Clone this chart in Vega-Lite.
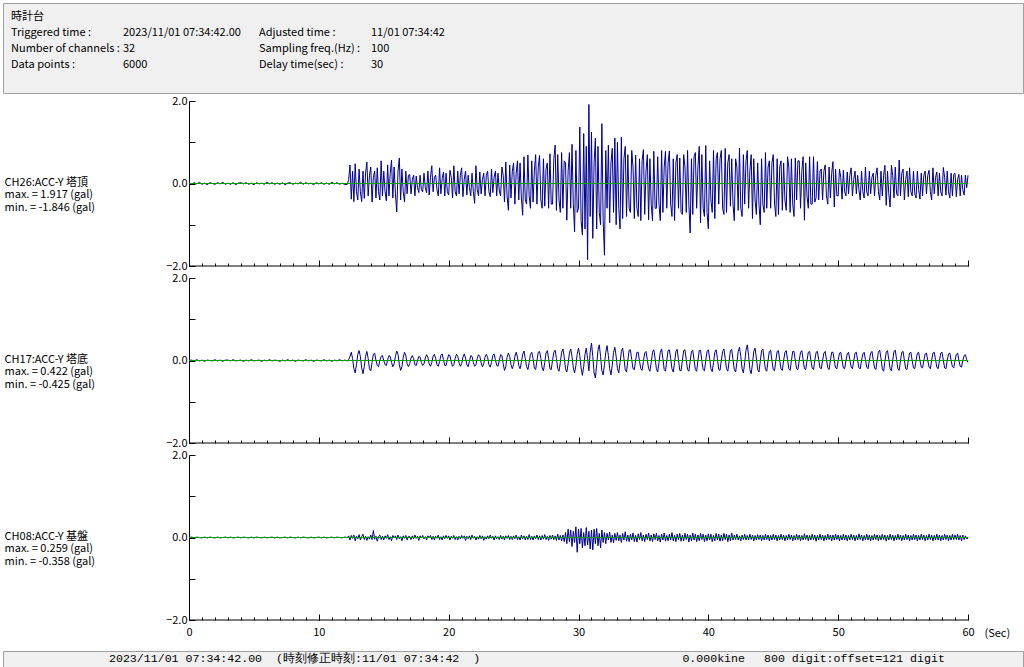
{
"$schema": "https://vega.github.io/schema/vega-lite/v6.json",
"background": "white",
"padding": {"left": 2, "top": 2, "right": 2, "bottom": 0},
"config": {
  "font": "Noto Sans CJK JP",
  "view": {"stroke": null},
  "axis": {"labelFont": "Noto Sans CJK JP", "labelFontSize": 11, "labelColor": "black", "domainColor": "black", "tickColor": "black", "grid": false, "titleFont": "Noto Sans CJK JP", "titleFontWeight": "normal", "titleColor": "black", "titleFontSize": 11}
},
"datasets": {"w": [
{"t":0,"a":0.01,"b":0,"c":0},{"t":0.2,"a":-0.02,"b":0.01,"c":0.01},{"t":0.4,"a":0.02,"b":-0.01,"c":-0.01},{"t":0.6,"a":-0.01,"b":0.02,"c":0.01},{"t":0.8,"a":0.03,"b":-0.01,"c":0},
{"t":1,"a":-0.02,"b":0.01,"c":-0.01},{"t":1.2,"a":0.01,"b":-0.02,"c":0.01},{"t":1.4,"a":-0.03,"b":0.01,"c":-0.01},{"t":1.6,"a":0.02,"b":0,"c":0.01},{"t":1.8,"a":0,"b":-0.01,"c":0},
{"t":2,"a":-0.02,"b":0.02,"c":-0.01},{"t":2.2,"a":0.02,"b":-0.01,"c":0.01},{"t":2.4,"a":-0.01,"b":0.01,"c":-0.01},{"t":2.6,"a":0.03,"b":-0.02,"c":0},{"t":2.8,"a":-0.02,"b":0.01,"c":0.01},
{"t":3,"a":0.01,"b":0.01,"c":-0.01},{"t":3.2,"a":-0.02,"b":-0.01,"c":0.01},{"t":3.4,"a":0.02,"b":0.02,"c":-0.01},{"t":3.6,"a":-0.03,"b":-0.01,"c":0},{"t":3.8,"a":0.01,"b":0,"c":0.01},
{"t":4,"a":0.02,"b":0.01,"c":-0.01},{"t":4.2,"a":-0.01,"b":-0.02,"c":0.01},{"t":4.4,"a":0.02,"b":0.01,"c":0},{"t":4.6,"a":-0.02,"b":-0.01,"c":-0.01},{"t":4.8,"a":0.01,"b":0.02,"c":0.01},
{"t":5,"a":-0.03,"b":-0.01,"c":-0.01},{"t":5.2,"a":0.02,"b":0,"c":0.01},{"t":5.4,"a":-0.01,"b":0.01,"c":0},{"t":5.6,"a":0.01,"b":-0.02,"c":-0.01},{"t":5.8,"a":-0.02,"b":0.01,"c":0.01},
{"t":6,"a":0.03,"b":-0.01,"c":-0.01},{"t":6.2,"a":-0.01,"b":0.02,"c":0},{"t":6.4,"a":0.02,"b":-0.01,"c":0.01},{"t":6.6,"a":-0.02,"b":0.01,"c":-0.01},{"t":6.8,"a":0.01,"b":0,"c":0.01},
{"t":7,"a":-0.02,"b":-0.02,"c":-0.01},{"t":7.2,"a":0.02,"b":0.01,"c":0},{"t":7.4,"a":-0.03,"b":-0.01,"c":0.01},{"t":7.6,"a":0.01,"b":0.02,"c":-0.01},{"t":7.8,"a":0.02,"b":-0.01,"c":0.01},
{"t":8,"a":-0.02,"b":0.01,"c":0},{"t":8.2,"a":0.01,"b":-0.02,"c":-0.01},{"t":8.4,"a":-0.01,"b":0.01,"c":0.01},{"t":8.6,"a":0.03,"b":0,"c":-0.01},{"t":8.8,"a":-0.02,"b":-0.01,"c":0.01},
{"t":9,"a":0.02,"b":0.02,"c":0},{"t":9.2,"a":-0.01,"b":-0.01,"c":-0.01},{"t":9.4,"a":0.01,"b":0.01,"c":0.01},{"t":9.6,"a":-0.03,"b":-0.02,"c":-0.01},{"t":9.8,"a":0.02,"b":0.01,"c":0},
{"t":10,"a":-0.01,"b":0,"c":0.01},{"t":10.2,"a":0.02,"b":-0.01,"c":-0.01},{"t":10.4,"a":-0.02,"b":0.02,"c":0.01},{"t":10.6,"a":0.01,"b":-0.01,"c":-0.01},{"t":10.8,"a":-0.02,"b":0.01,"c":0},
{"t":11,"a":0.03,"b":-0.02,"c":0.01},{"t":11.2,"a":-0.01,"b":0.01,"c":-0.01},{"t":11.4,"a":0.02,"b":-0.01,"c":0.01},{"t":11.6,"a":-0.02,"b":0.02,"c":0},{"t":11.8,"a":0.01,"b":-0.01,"c":-0.01},
{"t":12,"a":-0.03,"b":0.01,"c":0.01},{"t":12.2,"a":-0.02,"b":-0.01,"c":0},
{"t":12.3,"a":0.1,"b":0.02,"c":0.04},{"t":12.4,"a":0.45,"b":0.1,"c":-0.06},{"t":12.5,"a":-0.38,"b":0.2,"c":0.05},{"t":12.6,"a":0.3,"b":0.05,"c":-0.02},{"t":12.7,"a":-0.44,"b":-0.2,"c":0.06},{"t":12.8,"a":0.48,"b":-0.3,"c":-0.08},{"t":12.9,"a":-0.2,"b":-0.1,"c":0.03},
{"t":13,"a":-0.4,"b":0.15,"c":-0.03},{"t":13.1,"a":0.35,"b":0.24,"c":0.07},{"t":13.2,"a":-0.2,"b":0.1,"c":-0.06},{"t":13.3,"a":-0.44,"b":-0.18,"c":0.02},{"t":13.4,"a":0.3,"b":-0.32,"c":0.08},{"t":13.5,"a":-0.36,"b":-0.15,"c":-0.05},{"t":13.6,"a":0.25,"b":0.1,"c":0.03},{"t":13.7,"a":0.52,"b":0.22,"c":-0.07},{"t":13.8,"a":-0.3,"b":0.05,"c":0.02},{"t":13.9,"a":0.2,"b":-0.2,"c":-0.04},
{"t":14,"a":0.4,"b":-0.25,"c":0.06},{"t":14.1,"a":-0.45,"b":-0.05,"c":-0.05},{"t":14.2,"a":0.15,"b":0.15,"c":0.17},{"t":14.3,"a":0.3,"b":0.18,"c":-0.04},{"t":14.4,"a":-0.35,"b":0,"c":0.03},{"t":14.5,"a":0.38,"b":-0.12,"c":-0.09},{"t":14.6,"a":-0.2,"b":-0.15,"c":0.02},{"t":14.7,"a":-0.4,"b":0,"c":0.06},{"t":14.8,"a":0.55,"b":0.1,"c":-0.05},{"t":14.9,"a":-0.3,"b":0.12,"c":0.03},
{"t":15,"a":0.3,"b":0,"c":-0.06},{"t":15.1,"a":-0.2,"b":-0.1,"c":0.04},{"t":15.2,"a":-0.42,"b":-0.12,"c":-0.02},{"t":15.3,"a":0.45,"b":0.02,"c":0.07},{"t":15.4,"a":-0.3,"b":0.12,"c":-0.05},{"t":15.5,"a":0.25,"b":0.1,"c":0.02},{"t":15.6,"a":0.57,"b":-0.05,"c":-0.08},{"t":15.7,"a":-0.35,"b":-0.15,"c":0.05},{"t":15.8,"a":0.4,"b":-0.08,"c":-0.01},{"t":15.9,"a":-0.25,"b":0.1,"c":0.04},
{"t":16,"a":-0.69,"b":0.23,"c":-0.05},{"t":16.1,"a":0.3,"b":0.15,"c":0.06},{"t":16.2,"a":0.62,"b":-0.1,"c":-0.03},{"t":16.3,"a":-0.4,"b":-0.24,"c":0.02},{"t":16.4,"a":0.35,"b":-0.15,"c":-0.08},{"t":16.5,"a":-0.2,"b":0.08,"c":0.04},{"t":16.6,"a":-0.45,"b":0.2,"c":-0.02},{"t":16.7,"a":0.3,"b":0.12,"c":0.05},{"t":16.8,"a":-0.25,"b":-0.08,"c":-0.06},{"t":16.9,"a":0.2,"b":-0.15,"c":0.03},
{"t":17,"a":0.22,"b":-0.08,"c":0.02},{"t":17.1,"a":-0.25,"b":0.06,"c":-0.05},{"t":17.2,"a":0.1,"b":0.12,"c":0.04},{"t":17.3,"a":0.2,"b":0.05,"c":-0.03},{"t":17.4,"a":-0.3,"b":-0.1,"c":0.06},{"t":17.5,"a":0.18,"b":-0.12,"c":-0.02},{"t":17.6,"a":-0.1,"b":0,"c":0.03},{"t":17.7,"a":-0.22,"b":0.1,"c":-0.07},{"t":17.8,"a":0.2,"b":0.08,"c":0.04},{"t":17.9,"a":-0.15,"b":-0.05,"c":-0.01},
{"t":18,"a":-0.2,"b":-0.12,"c":0.05},{"t":18.1,"a":0.25,"b":-0.08,"c":-0.03},{"t":18.2,"a":-0.1,"b":0.06,"c":0.02},{"t":18.3,"a":-0.22,"b":0.14,"c":-0.06},{"t":18.4,"a":0.3,"b":0.08,"c":0.04},{"t":18.5,"a":-0.28,"b":-0.08,"c":-0.01},{"t":18.6,"a":0.15,"b":-0.14,"c":0.05},{"t":18.7,"a":0.43,"b":-0.05,"c":-0.05},{"t":18.8,"a":-0.2,"b":0.1,"c":0.03},{"t":18.9,"a":0.15,"b":0.15,"c":-0.06},
{"t":19,"a":0.2,"b":0.05,"c":0.03},{"t":19.1,"a":-0.15,"b":-0.1,"c":-0.02},{"t":19.2,"a":-0.3,"b":-0.14,"c":0.06},{"t":19.3,"a":0.38,"b":-0.02,"c":-0.05},{"t":19.4,"a":-0.25,"b":0.12,"c":0.02},{"t":19.5,"a":0.12,"b":0.16,"c":-0.06},{"t":19.6,"a":0.28,"b":0.02,"c":0.04},{"t":19.7,"a":-0.3,"b":-0.12,"c":-0.03},{"t":19.8,"a":0.25,"b":-0.12,"c":0.05},{"t":19.9,"a":-0.2,"b":0.02,"c":-0.02},
{"t":20,"a":-0.28,"b":0.14,"c":0.04},{"t":20.1,"a":0.32,"b":0.12,"c":-0.06},{"t":20.2,"a":0.15,"b":-0.04,"c":0.03},{"t":20.3,"a":-0.35,"b":-0.14,"c":-0.02},{"t":20.4,"a":0.43,"b":-0.1,"c":0.05},{"t":20.5,"a":-0.2,"b":0.05,"c":-0.05},{"t":20.6,"a":-0.3,"b":0.15,"c":0.02},{"t":20.7,"a":0.3,"b":0.1,"c":-0.06},{"t":20.8,"a":-0.25,"b":-0.06,"c":0.03},{"t":20.9,"a":0.2,"b":-0.14,"c":-0.03},
{"t":21,"a":0.38,"b":-0.08,"c":0.05},{"t":21.1,"a":-0.32,"b":0.08,"c":-0.02},{"t":21.2,"a":0.1,"b":0.16,"c":0.04},{"t":21.3,"a":0.3,"b":0.06,"c":-0.07},{"t":21.4,"a":-0.28,"b":-0.1,"c":0.03},{"t":21.5,"a":0.2,"b":-0.15,"c":-0.03},{"t":21.6,"a":-0.1,"b":-0.02,"c":0.04},{"t":21.7,"a":-0.3,"b":0.12,"c":-0.05},{"t":21.8,"a":0.25,"b":0.1,"c":0.06},{"t":21.9,"a":-0.2,"b":-0.05,"c":-0.02},
{"t":22,"a":-0.48,"b":-0.14,"c":0.03},{"t":22.1,"a":0.43,"b":-0.1,"c":-0.06},{"t":22.2,"a":-0.15,"b":0.05,"c":0.02},{"t":22.3,"a":-0.3,"b":0.14,"c":-0.04},{"t":22.4,"a":0.28,"b":0.1,"c":0.05},{"t":22.5,"a":-0.25,"b":-0.06,"c":-0.03},{"t":22.6,"a":0.1,"b":-0.15,"c":0.04},{"t":22.7,"a":0.25,"b":-0.08,"c":-0.07},{"t":22.8,"a":-0.3,"b":0.08,"c":0.02},{"t":22.9,"a":0.2,"b":0.15,"c":-0.04},
{"t":23,"a":0.3,"b":0.08,"c":0.04},{"t":23.1,"a":-0.2,"b":-0.1,"c":-0.03},{"t":23.2,"a":-0.32,"b":-0.16,"c":0.06},{"t":23.3,"a":0.35,"b":-0.05,"c":-0.02},{"t":23.4,"a":-0.22,"b":0.12,"c":0.03},{"t":23.5,"a":0.15,"b":0.16,"c":-0.06},{"t":23.6,"a":0.3,"b":0.02,"c":0.04},{"t":23.7,"a":-0.3,"b":-0.12,"c":-0.03},{"t":23.8,"a":0.25,"b":-0.14,"c":0.02},{"t":23.9,"a":-0.18,"b":0,"c":-0.05},
{"t":24,"a":-0.3,"b":0.14,"c":0.05},{"t":24.1,"a":0.4,"b":0.12,"c":-0.04},{"t":24.2,"a":0.2,"b":-0.08,"c":0.03},{"t":24.3,"a":-0.45,"b":-0.24,"c":-0.06},{"t":24.4,"a":0.52,"b":-0.15,"c":0.04},{"t":24.5,"a":-0.3,"b":0.08,"c":-0.02},{"t":24.6,"a":-0.65,"b":0.18,"c":0.05},{"t":24.7,"a":0.45,"b":0.1,"c":-0.05},{"t":24.8,"a":-0.35,"b":-0.1,"c":0.03},{"t":24.9,"a":0.3,"b":-0.2,"c":-0.05},
{"t":25,"a":0.5,"b":-0.1,"c":0.04},{"t":25.1,"a":-0.5,"b":0.1,"c":-0.03},{"t":25.2,"a":0.25,"b":0.2,"c":0.06},{"t":25.3,"a":0.55,"b":0.08,"c":-0.05},{"t":25.4,"a":-0.4,"b":-0.12,"c":0.02},{"t":25.5,"a":0.5,"b":-0.2,"c":-0.06},{"t":25.6,"a":-0.35,"b":-0.05,"c":0.06},{"t":25.7,"a":-0.77,"b":0.15,"c":-0.03},{"t":25.8,"a":0.65,"b":0.23,"c":0.04},{"t":25.9,"a":-0.4,"b":0.05,"c":-0.06},
{"t":26,"a":-0.5,"b":-0.15,"c":0.03},{"t":26.1,"a":0.69,"b":-0.22,"c":-0.05},{"t":26.2,"a":-0.3,"b":-0.05,"c":0.07},{"t":26.3,"a":-0.6,"b":0.15,"c":-0.05},{"t":26.4,"a":0.55,"b":0.2,"c":0.03},{"t":26.5,"a":-0.45,"b":0.05,"c":-0.06},{"t":26.6,"a":0.3,"b":-0.18,"c":0.04},{"t":26.7,"a":0.7,"b":-0.22,"c":-0.03},{"t":26.8,"a":-0.5,"b":0,"c":0.06},{"t":26.9,"a":0.4,"b":0.2,"c":-0.05},
{"t":27,"a":0.68,"b":0.22,"c":0.04},{"t":27.1,"a":-0.4,"b":0.05,"c":-0.06},{"t":27.2,"a":-0.6,"b":-0.18,"c":0.05},{"t":27.3,"a":0.6,"b":-0.25,"c":-0.04},{"t":27.4,"a":-0.55,"b":-0.05,"c":0.07},{"t":27.5,"a":0.35,"b":0.18,"c":-0.05},{"t":27.6,"a":0.5,"b":0.24,"c":0.03},{"t":27.7,"a":-0.6,"b":0.05,"c":-0.07},{"t":27.8,"a":0.72,"b":-0.2,"c":0.05},{"t":27.9,"a":-0.5,"b":-0.22,"c":-0.04},
{"t":28,"a":-0.5,"b":0,"c":0.06},{"t":28.1,"a":0.6,"b":0.2,"c":-0.05},{"t":28.2,"a":0.93,"b":0.25,"c":0.04},{"t":28.3,"a":-0.65,"b":0.05,"c":-0.07},{"t":28.4,"a":0.7,"b":-0.2,"c":0.08},{"t":28.5,"a":-0.4,"b":-0.26,"c":-0.06},{"t":28.6,"a":-0.7,"b":-0.05,"c":0.05},{"t":28.7,"a":0.75,"b":0.2,"c":-0.08},{"t":28.8,"a":-0.6,"b":0.28,"c":0.06},{"t":28.9,"a":0.55,"b":0.08,"c":-0.1},
{"t":29,"a":0.5,"b":-0.2,"c":0.12},{"t":29.1,"a":-0.89,"b":-0.28,"c":-0.15},{"t":29.2,"a":0.3,"b":-0.08,"c":0.2},{"t":29.3,"a":0.75,"b":0.18,"c":-0.1},{"t":29.4,"a":-0.6,"b":0.28,"c":0.18},{"t":29.5,"a":0.95,"b":0.1,"c":-0.22},{"t":29.6,"a":-0.5,"b":-0.18,"c":0.15},{"t":29.7,"a":-1.17,"b":-0.3,"c":-0.12},{"t":29.8,"a":0.8,"b":-0.12,"c":0.259},{"t":29.9,"a":-0.7,"b":0.15,"c":-0.358},
{"t":30,"a":-0.6,"b":0.3,"c":0.2},{"t":30.1,"a":1.37,"b":0.12,"c":-0.15},{"t":30.2,"a":-0.9,"b":-0.18,"c":0.22},{"t":30.3,"a":-1.25,"b":-0.36,"c":-0.25},{"t":30.4,"a":1.21,"b":-0.15,"c":0.12},{"t":30.5,"a":-1.1,"b":0.15,"c":-0.2},{"t":30.6,"a":0.9,"b":0.3,"c":0.24},{"t":30.7,"a":-1.846,"b":0.05,"c":-0.18},{"t":30.8,"a":1.917,"b":-0.25,"c":0.15},{"t":30.9,"a":-0.8,"b":0.2,"c":-0.28},
{"t":31,"a":1.25,"b":0.422,"c":0.18},{"t":31.1,"a":-1.33,"b":0.1,"c":-0.3},{"t":31.2,"a":0.5,"b":-0.3,"c":0.2},{"t":31.3,"a":1.1,"b":-0.425,"c":-0.15},{"t":31.4,"a":-1.1,"b":-0.1,"c":0.22},{"t":31.5,"a":0.9,"b":0.25,"c":-0.2},{"t":31.6,"a":-0.7,"b":0.38,"c":0.1},{"t":31.7,"a":-1.0,"b":0.1,"c":-0.25},{"t":31.8,"a":1.45,"b":-0.25,"c":0.18},{"t":31.9,"a":-0.9,"b":-0.35,"c":-0.12},
{"t":32,"a":-1.74,"b":-0.1,"c":0.12},{"t":32.1,"a":0.8,"b":0.2,"c":-0.15},{"t":32.2,"a":-0.6,"b":0.36,"c":0.1},{"t":32.3,"a":0.93,"b":0.12,"c":-0.06},{"t":32.4,"a":-0.95,"b":-0.2,"c":0.13},{"t":32.5,"a":0.5,"b":-0.35,"c":-0.12},{"t":32.6,"a":0.85,"b":-0.12,"c":0.06},{"t":32.7,"a":-0.7,"b":0.2,"c":-0.13},{"t":32.8,"a":1.1,"b":0.32,"c":0.1},{"t":32.9,"a":-1.0,"b":0.1,"c":-0.07},
{"t":33,"a":1.0,"b":-0.2,"c":0.12},{"t":33.1,"a":-0.6,"b":-0.3,"c":-0.08},{"t":33.2,"a":-1.1,"b":-0.05,"c":0.06},{"t":33.3,"a":1.12,"b":0.22,"c":-0.12},{"t":33.4,"a":-0.85,"b":0.3,"c":0.1},{"t":33.5,"a":0.6,"b":0.05,"c":-0.06},{"t":33.6,"a":0.9,"b":-0.22,"c":0.14},{"t":33.7,"a":-0.8,"b":-0.28,"c":-0.09},{"t":33.8,"a":0.7,"b":0,"c":0.06},{"t":33.9,"a":-0.6,"b":0.25,"c":-0.1},
{"t":34,"a":-0.7,"b":0.26,"c":0.08},{"t":34.1,"a":0.8,"b":0.02,"c":-0.06},{"t":34.2,"a":0.4,"b":-0.2,"c":0.11},{"t":34.3,"a":-0.85,"b":-0.22,"c":-0.1},{"t":34.4,"a":0.69,"b":0,"c":0.05},{"t":34.5,"a":-0.6,"b":0.2,"c":-0.11},{"t":34.6,"a":-0.8,"b":0.2,"c":0.09},{"t":34.7,"a":0.6,"b":-0.02,"c":-0.05},{"t":34.8,"a":-0.9,"b":-0.2,"c":0.12},{"t":34.9,"a":0.55,"b":-0.24,"c":-0.08},
{"t":35,"a":0.82,"b":-0.02,"c":0.06},{"t":35.1,"a":-0.75,"b":0.18,"c":-0.1},{"t":35.2,"a":0.3,"b":0.22,"c":0.08},{"t":35.3,"a":0.7,"b":0.02,"c":-0.05},{"t":35.4,"a":-0.88,"b":-0.2,"c":0.11},{"t":35.5,"a":0.6,"b":-0.26,"c":-0.08},{"t":35.6,"a":-0.5,"b":-0.05,"c":0.06},{"t":35.7,"a":-0.9,"b":0.2,"c":-0.1},{"t":35.8,"a":0.78,"b":0.26,"c":0.09},{"t":35.9,"a":-0.6,"b":0.05,"c":-0.05},
{"t":36,"a":-0.6,"b":-0.2,"c":0.1},{"t":36.1,"a":0.65,"b":-0.28,"c":-0.08},{"t":36.2,"a":-0.5,"b":-0.05,"c":0.05},{"t":36.3,"a":-0.9,"b":0.2,"c":-0.11},{"t":36.4,"a":0.8,"b":0.28,"c":0.08},{"t":36.5,"a":-0.7,"b":0.05,"c":-0.06},{"t":36.6,"a":0.4,"b":-0.22,"c":0.11},{"t":36.7,"a":0.78,"b":-0.26,"c":-0.09},{"t":36.8,"a":-0.6,"b":0,"c":0.05},{"t":36.9,"a":0.5,"b":0.24,"c":-0.08},
{"t":37,"a":0.79,"b":0.26,"c":0.08},{"t":37.1,"a":-0.5,"b":0.05,"c":-0.06},{"t":37.2,"a":-0.8,"b":-0.2,"c":0.12},{"t":37.3,"a":0.6,"b":-0.28,"c":-0.08},{"t":37.4,"a":-0.9,"b":-0.05,"c":0.05},{"t":37.5,"a":0.5,"b":0.22,"c":-0.1},{"t":37.6,"a":0.7,"b":0.27,"c":0.08},{"t":37.7,"a":-0.6,"b":0.02,"c":-0.05},{"t":37.8,"a":0.62,"b":-0.24,"c":0.1},{"t":37.9,"a":-0.7,"b":-0.25,"c":-0.09},
{"t":38,"a":-0.75,"b":0,"c":0.06},{"t":38.1,"a":0.7,"b":0.24,"c":-0.08},{"t":38.2,"a":0.4,"b":0.26,"c":0.1},{"t":38.3,"a":-0.7,"b":0.02,"c":-0.05},{"t":38.4,"a":0.8,"b":-0.22,"c":0.08},{"t":38.5,"a":-0.5,"b":-0.26,"c":-0.11},{"t":38.6,"a":-1.2,"b":-0.02,"c":0.06},{"t":38.7,"a":0.6,"b":0.22,"c":-0.08},{"t":38.8,"a":-0.75,"b":0.25,"c":0.11},{"t":38.9,"a":0.65,"b":0.02,"c":-0.06},
{"t":39,"a":0.75,"b":-0.22,"c":0.08},{"t":39.1,"a":-0.6,"b":-0.26,"c":-0.1},{"t":39.2,"a":0.4,"b":0,"c":0.06},{"t":39.3,"a":0.9,"b":0.24,"c":-0.08},{"t":39.4,"a":-0.95,"b":0.25,"c":0.1},{"t":39.5,"a":0.7,"b":0,"c":-0.05},{"t":39.6,"a":-0.6,"b":-0.22,"c":0.08},{"t":39.7,"a":-0.8,"b":-0.25,"c":-0.1},{"t":39.8,"a":0.92,"b":0,"c":0.06},{"t":39.9,"a":-0.7,"b":0.22,"c":-0.08},
{"t":40,"a":-1.1,"b":0.26,"c":0.09},{"t":40.1,"a":0.55,"b":0.05,"c":-0.06},{"t":40.2,"a":-0.4,"b":-0.2,"c":0.08},{"t":40.3,"a":-0.7,"b":-0.27,"c":-0.1},{"t":40.4,"a":0.8,"b":-0.05,"c":0.05},{"t":40.5,"a":-0.85,"b":0.2,"c":-0.08},{"t":40.6,"a":0.6,"b":0.26,"c":0.1},{"t":40.7,"a":0.75,"b":0.05,"c":-0.06},{"t":40.8,"a":-0.5,"b":-0.22,"c":0.08},{"t":40.9,"a":0.6,"b":-0.24,"c":-0.09},
{"t":41,"a":0.8,"b":0,"c":0.06},{"t":41.1,"a":-0.6,"b":0.22,"c":-0.08},{"t":41.2,"a":-0.75,"b":0.28,"c":0.1},{"t":41.3,"a":0.85,"b":0.05,"c":-0.05},{"t":41.4,"a":-0.7,"b":-0.2,"c":0.08},{"t":41.5,"a":0.5,"b":-0.26,"c":-0.1},{"t":41.6,"a":0.7,"b":-0.02,"c":0.06},{"t":41.7,"a":-0.55,"b":0.24,"c":-0.08},{"t":41.8,"a":0.6,"b":0.27,"c":0.11},{"t":41.9,"a":-0.5,"b":0.02,"c":-0.06},
{"t":42,"a":-0.9,"b":-0.22,"c":0.06},{"t":42.1,"a":0.6,"b":-0.28,"c":-0.05},{"t":42.2,"a":0.4,"b":-0.05,"c":0.08},{"t":42.3,"a":-0.65,"b":0.22,"c":-0.06},{"t":42.4,"a":0.86,"b":0.32,"c":0.04},{"t":42.5,"a":-0.6,"b":0.1,"c":-0.08},{"t":42.6,"a":-0.8,"b":-0.2,"c":0.06},{"t":42.7,"a":0.7,"b":-0.3,"c":-0.05},{"t":42.8,"a":-0.5,"b":-0.05,"c":0.08},{"t":42.9,"a":0.55,"b":0.25,"c":-0.06},
{"t":43,"a":0.8,"b":0.38,"c":0.05},{"t":43.1,"a":-0.6,"b":0.12,"c":-0.06},{"t":43.2,"a":0.3,"b":-0.22,"c":0.08},{"t":43.3,"a":0.7,"b":-0.32,"c":-0.05},{"t":43.4,"a":-0.85,"b":-0.08,"c":0.06},{"t":43.5,"a":0.6,"b":0.22,"c":-0.08},{"t":43.6,"a":-0.4,"b":0.3,"c":0.05},{"t":43.7,"a":-0.75,"b":0.06,"c":-0.06},{"t":43.8,"a":0.5,"b":-0.22,"c":0.07},{"t":43.9,"a":-0.5,"b":-0.28,"c":-0.05},
{"t":44,"a":-1.0,"b":-0.02,"c":0.06},{"t":44.1,"a":0.6,"b":0.24,"c":-0.08},{"t":44.2,"a":-0.5,"b":0.28,"c":0.05},{"t":44.3,"a":-0.7,"b":0.02,"c":-0.06},{"t":44.4,"a":0.75,"b":-0.22,"c":0.08},{"t":44.5,"a":-0.6,"b":-0.26,"c":-0.05},{"t":44.6,"a":0.4,"b":0,"c":0.06},{"t":44.7,"a":0.55,"b":0.22,"c":-0.08},{"t":44.8,"a":-0.6,"b":0.25,"c":0.05},{"t":44.9,"a":0.5,"b":0,"c":-0.06},
{"t":45,"a":0.7,"b":-0.22,"c":0.08},{"t":45.1,"a":-0.5,"b":-0.25,"c":-0.05},{"t":45.2,"a":-0.8,"b":0,"c":0.06},{"t":45.3,"a":0.6,"b":0.22,"c":-0.08},{"t":45.4,"a":-0.75,"b":0.24,"c":0.05},{"t":45.5,"a":0.4,"b":0,"c":-0.06},{"t":45.6,"a":0.55,"b":-0.2,"c":0.08},{"t":45.7,"a":-0.65,"b":-0.24,"c":-0.05},{"t":45.8,"a":0.5,"b":0,"c":0.06},{"t":45.9,"a":-0.4,"b":0.2,"c":-0.08},
{"t":46,"a":-0.65,"b":0.24,"c":0.05},{"t":46.1,"a":0.65,"b":0.02,"c":-0.06},{"t":46.2,"a":0.4,"b":-0.2,"c":0.08},{"t":46.3,"a":-0.7,"b":-0.24,"c":-0.05},{"t":46.4,"a":0.6,"b":0,"c":0.06},{"t":46.5,"a":-0.5,"b":0.22,"c":-0.08},{"t":46.6,"a":-0.8,"b":0.22,"c":0.05},{"t":46.7,"a":0.62,"b":0,"c":-0.06},{"t":46.8,"a":-0.4,"b":-0.2,"c":0.08},{"t":46.9,"a":0.55,"b":-0.22,"c":-0.05},
{"t":47,"a":0.55,"b":0,"c":0.06},{"t":47.1,"a":-0.6,"b":0.2,"c":-0.08},{"t":47.2,"a":0.3,"b":0.24,"c":0.05},{"t":47.3,"a":0.65,"b":0.02,"c":-0.06},{"t":47.4,"a":-0.89,"b":-0.2,"c":0.09},{"t":47.5,"a":0.5,"b":-0.22,"c":-0.05},{"t":47.6,"a":-0.3,"b":0,"c":0.06},{"t":47.7,"a":-0.6,"b":0.2,"c":-0.08},{"t":47.8,"a":0.65,"b":0.22,"c":0.05},{"t":47.9,"a":-0.5,"b":0,"c":-0.06},
{"t":48,"a":-0.5,"b":-0.18,"c":0.08},{"t":48.1,"a":0.65,"b":-0.22,"c":-0.05},{"t":48.2,"a":-0.45,"b":0,"c":0.06},{"t":48.3,"a":-0.35,"b":0.2,"c":-0.09},{"t":48.4,"a":0.53,"b":0.22,"c":0.05},{"t":48.5,"a":-0.4,"b":0.02,"c":-0.06},{"t":48.6,"a":0.3,"b":-0.18,"c":0.08},{"t":48.7,"a":0.35,"b":-0.2,"c":-0.05},{"t":48.8,"a":-0.4,"b":0,"c":0.06},{"t":48.9,"a":0.3,"b":0.18,"c":-0.08},
{"t":49,"a":0.45,"b":0.22,"c":0.05},{"t":49.1,"a":-0.3,"b":0.02,"c":-0.06},{"t":49.2,"a":-0.5,"b":-0.18,"c":0.08},{"t":49.3,"a":0.4,"b":-0.22,"c":-0.05},{"t":49.4,"a":-0.35,"b":0,"c":0.06},{"t":49.5,"a":0.25,"b":0.2,"c":-0.08},{"t":49.6,"a":0.53,"b":0.2,"c":0.06},{"t":49.7,"a":-0.57,"b":0,"c":-0.06},{"t":49.8,"a":0.35,"b":-0.18,"c":0.08},{"t":49.9,"a":-0.3,"b":-0.2,"c":-0.05},
{"t":50,"a":-0.3,"b":0,"c":0.06},{"t":50.1,"a":0.35,"b":0.18,"c":-0.08},{"t":50.2,"a":0.15,"b":0.2,"c":0.05},{"t":50.3,"a":-0.38,"b":0,"c":-0.06},{"t":50.4,"a":0.32,"b":-0.18,"c":0.08},{"t":50.5,"a":-0.2,"b":-0.2,"c":-0.06},{"t":50.6,"a":-0.3,"b":0,"c":0.06},{"t":50.7,"a":0.28,"b":0.16,"c":-0.08},{"t":50.8,"a":-0.25,"b":0.2,"c":0.05},{"t":50.9,"a":0.2,"b":0.02,"c":-0.06},
{"t":51,"a":0.38,"b":-0.16,"c":0.08},{"t":51.1,"a":-0.3,"b":-0.2,"c":-0.05},{"t":51.2,"a":0.1,"b":0,"c":0.06},{"t":51.3,"a":0.3,"b":0.18,"c":-0.08},{"t":51.4,"a":-0.25,"b":0.2,"c":0.05},{"t":51.5,"a":0.2,"b":0,"c":-0.06},{"t":51.6,"a":-0.15,"b":-0.18,"c":0.09},{"t":51.7,"a":-0.4,"b":-0.2,"c":-0.05},{"t":51.8,"a":0.3,"b":0,"c":0.06},{"t":51.9,"a":-0.2,"b":0.16,"c":-0.08},
{"t":52,"a":-0.35,"b":0.2,"c":0.05},{"t":52.1,"a":0.4,"b":0.02,"c":-0.06},{"t":52.2,"a":-0.2,"b":-0.16,"c":0.08},{"t":52.3,"a":-0.3,"b":-0.2,"c":-0.06},{"t":52.4,"a":0.3,"b":0,"c":0.06},{"t":52.5,"a":-0.25,"b":0.18,"c":-0.08},{"t":52.6,"a":0.15,"b":0.22,"c":0.05},{"t":52.7,"a":0.25,"b":0.02,"c":-0.06},{"t":52.8,"a":-0.3,"b":-0.18,"c":0.08},{"t":52.9,"a":0.2,"b":-0.22,"c":-0.05},
{"t":53,"a":0.38,"b":0,"c":0.06},{"t":53.1,"a":-0.2,"b":0.2,"c":-0.08},{"t":53.2,"a":-0.4,"b":0.25,"c":0.05},{"t":53.3,"a":0.3,"b":0.05,"c":-0.06},{"t":53.4,"a":-0.3,"b":-0.2,"c":0.08},{"t":53.5,"a":0.2,"b":-0.26,"c":-0.05},{"t":53.6,"a":0.44,"b":-0.02,"c":0.06},{"t":53.7,"a":-0.53,"b":0.2,"c":-0.09},{"t":53.8,"a":0.3,"b":0.24,"c":0.05},{"t":53.9,"a":-0.25,"b":0.02,"c":-0.06},
{"t":54,"a":-0.57,"b":-0.2,"c":0.08},{"t":54.1,"a":0.44,"b":-0.25,"c":-0.05},{"t":54.2,"a":0.2,"b":0,"c":0.06},{"t":54.3,"a":-0.35,"b":0.22,"c":-0.08},{"t":54.4,"a":0.4,"b":0.25,"c":0.05},{"t":54.5,"a":-0.25,"b":0.02,"c":-0.06},{"t":54.6,"a":-0.3,"b":-0.2,"c":0.08},{"t":54.7,"a":0.57,"b":-0.24,"c":-0.05},{"t":54.8,"a":-0.3,"b":0,"c":0.06},{"t":54.9,"a":0.25,"b":0.2,"c":-0.08},
{"t":55,"a":0.35,"b":0.22,"c":0.05},{"t":55.1,"a":-0.4,"b":0,"c":-0.06},{"t":55.2,"a":0.1,"b":-0.2,"c":0.08},{"t":55.3,"a":0.3,"b":-0.22,"c":-0.05},{"t":55.4,"a":-0.32,"b":0,"c":0.06},{"t":55.5,"a":0.38,"b":0.18,"c":-0.08},{"t":55.6,"a":-0.2,"b":0.2,"c":0.05},{"t":55.7,"a":-0.3,"b":0,"c":-0.06},{"t":55.8,"a":0.3,"b":-0.18,"c":0.08},{"t":55.9,"a":-0.25,"b":-0.2,"c":-0.05},
{"t":56,"a":-0.35,"b":0,"c":0.06},{"t":56.1,"a":0.3,"b":0.18,"c":-0.08},{"t":56.2,"a":-0.15,"b":0.2,"c":0.05},{"t":56.3,"a":-0.38,"b":0,"c":-0.06},{"t":56.4,"a":0.25,"b":-0.16,"c":0.08},{"t":56.5,"a":-0.3,"b":-0.18,"c":-0.05},{"t":56.6,"a":0.2,"b":0,"c":0.06},{"t":56.7,"a":0.3,"b":0.16,"c":-0.08},{"t":56.8,"a":-0.25,"b":0.18,"c":0.05},{"t":56.9,"a":0.2,"b":0,"c":-0.06},
{"t":57,"a":0.32,"b":-0.16,"c":0.08},{"t":57.1,"a":-0.2,"b":-0.2,"c":-0.05},{"t":57.2,"a":-0.4,"b":0,"c":0.06},{"t":57.3,"a":0.38,"b":0.18,"c":-0.08},{"t":57.4,"a":-0.25,"b":0.2,"c":0.05},{"t":57.5,"a":0.15,"b":0.02,"c":-0.06},{"t":57.6,"a":0.28,"b":-0.16,"c":0.08},{"t":57.7,"a":-0.3,"b":-0.2,"c":-0.06},{"t":57.8,"a":0.25,"b":0,"c":0.06},{"t":57.9,"a":-0.2,"b":0.18,"c":-0.08},
{"t":58,"a":-0.3,"b":0.2,"c":0.05},{"t":58.1,"a":0.39,"b":0,"c":-0.06},{"t":58.2,"a":0.15,"b":-0.18,"c":0.08},{"t":58.3,"a":-0.28,"b":-0.2,"c":-0.05},{"t":58.4,"a":0.3,"b":0,"c":0.06},{"t":58.5,"a":-0.2,"b":0.16,"c":-0.08},{"t":58.6,"a":-0.35,"b":0.18,"c":0.05},{"t":58.7,"a":0.25,"b":0,"c":-0.06},{"t":58.8,"a":-0.3,"b":-0.15,"c":0.08},{"t":58.9,"a":0.22,"b":-0.18,"c":-0.05},
{"t":59,"a":0.25,"b":0,"c":0.06},{"t":59.1,"a":-0.32,"b":0.15,"c":-0.05},{"t":59.2,"a":0.1,"b":0.18,"c":0.08},{"t":59.3,"a":0.22,"b":0,"c":-0.06},{"t":59.4,"a":-0.3,"b":-0.14,"c":0.05},{"t":59.5,"a":0.2,"b":-0.16,"c":-0.08},{"t":59.6,"a":-0.15,"b":0,"c":0.06},{"t":59.7,"a":-0.28,"b":0.12,"c":-0.05},{"t":59.8,"a":0.2,"b":0.14,"c":0.04},{"t":59.9,"a":-0.1,"b":0.02,"c":-0.03},
{"t":60,"a":0.2,"b":-0.05,"c":-0.02}
]},
"vconcat": [
  {
    "vconcat": [
      {
        "width": 1020, "height": 90,
        "view": {"fill": "#f0f0f0", "stroke": "#a0a0a0"},
        "layer": [
          {
            "data": {"values": [
              {"r": 0, "k": "k", "s": "時計台"},
              {"r": 1, "k": "k", "s": "Triggered time :"},
              {"r": 1, "k": "v", "s": "2023/11/01 07:34:42.00"},
              {"r": 2, "k": "k", "s": "Number of channels :"},
              {"r": 2, "k": "v", "s": "32"},
              {"r": 3, "k": "k", "s": "Data points :"},
              {"r": 3, "k": "v", "s": "6000"}
            ]},
            "mark": {"type": "text", "align": "left", "baseline": "middle", "fontSize": 11, "color": "black"},
            "encoding": {
              "x": {"field": "k", "type": "nominal", "scale": {"type": "point", "domain": ["k", "v"], "range": [8, 120], "padding": 0}, "axis": null},
              "y": {"field": "r", "type": "ordinal", "scale": {"type": "point", "domain": [0, 1, 2, 3], "range": [14, 62], "padding": 0}, "axis": null},
              "text": {"field": "s"}
            }
          },
          {
            "data": {"values": [
              {"r": 1, "k": "k", "s": "Adjusted time :"},
              {"r": 1, "k": "v", "s": "11/01 07:34:42"},
              {"r": 2, "k": "k", "s": "Sampling freq.(Hz) :"},
              {"r": 2, "k": "v", "s": "100"},
              {"r": 3, "k": "k", "s": "Delay time(sec) :"},
              {"r": 3, "k": "v", "s": "30"}
            ]},
            "mark": {"type": "text", "align": "left", "baseline": "middle", "fontSize": 11, "color": "black"},
            "encoding": {
              "x": {"field": "k", "type": "nominal", "scale": {"type": "point", "domain": ["k", "v"], "range": [256, 368], "padding": 0}, "axis": null},
              "y": {"field": "r", "type": "ordinal", "scale": {"type": "point", "domain": [0, 1, 2, 3], "range": [14, 62], "padding": 0}, "axis": null},
              "text": {"field": "s"}
            }
          }
        ],
        "resolve": {"scale": {"x": "independent"}}
      },
      {
        "width": 1020, "height": 165,
        "data": {"name": "w"},
        "layer": [
          {
            "mark": {"type": "line", "color": "#000090", "strokeWidth": 1},
            "encoding": {
              "x": {"field": "t", "type": "quantitative", "scale": {"domain": [-14.326, 64.236], "nice": false, "zero": false},
                    "axis": {"orient": "bottom", "values": [0, 10, 20, 30, 40, 50, 60], "tickSize": -6, "labels": false, "domain": false, "title": null}},
              "y": {"field": "a", "type": "quantitative", "scale": {"domain": [-2, 2], "nice": false, "zero": false},
                    "axis": {"values": [-2, -1, 0, 1, 2], "format": ".1f", "labelExpr": "datum.value % 2 === 0 ? datum.label : ''",
                             "tickSize": -6, "offset": -186, "labelPadding": 8, "labelOverlap": false, "labelFlush": false,
                             "title": ["CH26:ACC-Y 塔頂", "max. = 1.917 (gal)", "min. = -1.846 (gal)"],
                             "titleAngle": 0, "titleAlign": "left", "titleBaseline": "top", "titleX": -185, "titleY": 75, "titleLineHeight": 12.5}}
            }
          },
          {
            "data": {"values": [{}]},
            "mark": {"type": "rule", "color": "#00a000", "strokeWidth": 1},
            "encoding": {"x": {"datum": 0, "type": "quantitative", "axis": {"orient": "bottom", "values": [0,1,2,3,4,5,6,7,8,9,10,11,12,13,14,15,16,17,18,19,20,21,22,23,24,25,26,27,28,29,30,31,32,33,34,35,36,37,38,39,40,41,42,43,44,45,46,47,48,49,50,51,52,53,54,55,56,57,58,59,60], "tickSize": -3, "labels": false, "domain": false, "title": null}},
                         "x2": {"datum": 60}, "y": {"datum": 0, "type": "quantitative"}}
          },
          {
            "data": {"values": [{}]},
            "mark": {"type": "rule", "color": "black", "strokeWidth": 1},
            "encoding": {"x": {"datum": 0, "type": "quantitative", "axis": null}, "x2": {"datum": 60}, "y": {"datum": -2, "type": "quantitative"}}
          }
        ],
        "resolve": {"axis": {"x": "independent"}}
      },
      {
        "width": 1020, "height": 165,
        "data": {"name": "w"},
        "layer": [
          {
            "mark": {"type": "line", "color": "#000090", "strokeWidth": 1},
            "encoding": {
              "x": {"field": "t", "type": "quantitative", "scale": {"domain": [-14.326, 64.236], "nice": false, "zero": false},
                    "axis": {"orient": "bottom", "values": [0, 10, 20, 30, 40, 50, 60], "tickSize": -6, "labels": false, "domain": false, "title": null}},
              "y": {"field": "b", "type": "quantitative", "scale": {"domain": [-2, 2], "nice": false, "zero": false},
                    "axis": {"values": [-2, -1, 0, 1, 2], "format": ".1f", "labelExpr": "datum.value % 2 === 0 ? datum.label : ''",
                             "tickSize": -6, "offset": -186, "labelPadding": 8, "labelOverlap": false, "labelFlush": false,
                             "title": ["CH17:ACC-Y 塔底", "max. = 0.422 (gal)", "min. = -0.425 (gal)"],
                             "titleAngle": 0, "titleAlign": "left", "titleBaseline": "top", "titleX": -185, "titleY": 75, "titleLineHeight": 12.5}}
            }
          },
          {
            "data": {"values": [{}]},
            "mark": {"type": "rule", "color": "#00a000", "strokeWidth": 1},
            "encoding": {"x": {"datum": 0, "type": "quantitative", "axis": {"orient": "bottom", "values": [0,1,2,3,4,5,6,7,8,9,10,11,12,13,14,15,16,17,18,19,20,21,22,23,24,25,26,27,28,29,30,31,32,33,34,35,36,37,38,39,40,41,42,43,44,45,46,47,48,49,50,51,52,53,54,55,56,57,58,59,60], "tickSize": -3, "labels": false, "domain": false, "title": null}},
                         "x2": {"datum": 60}, "y": {"datum": 0, "type": "quantitative"}}
          },
          {
            "data": {"values": [{}]},
            "mark": {"type": "rule", "color": "black", "strokeWidth": 1},
            "encoding": {"x": {"datum": 0, "type": "quantitative", "axis": null}, "x2": {"datum": 60}, "y": {"datum": -2, "type": "quantitative"}}
          }
        ],
        "resolve": {"axis": {"x": "independent"}}
      },
      {
        "width": 1020, "height": 165,
        "data": {"name": "w"},
        "layer": [
          {
            "mark": {"type": "line", "color": "#000090", "strokeWidth": 1},
            "encoding": {
              "x": {"field": "t", "type": "quantitative", "scale": {"domain": [-14.326, 64.236], "nice": false, "zero": false},
                    "axis": {"orient": "bottom", "values": [0, 10, 20, 30, 40, 50, 60], "tickSize": -6, "labelPadding": 18.5, "labelBaseline": "middle",
                             "labelOverlap": false, "labelFlush": false, "domain": false,
                             "title": "(Sec)", "titleX": 981, "titleY": 13, "titleAlign": "left", "titleBaseline": "middle"}},
              "y": {"field": "c", "type": "quantitative", "scale": {"domain": [-2, 2], "nice": false, "zero": false},
                    "axis": {"values": [-2, -1, 0, 1, 2], "format": ".1f", "labelExpr": "datum.value % 2 === 0 ? datum.label : ''",
                             "tickSize": -6, "offset": -186, "labelPadding": 8, "labelOverlap": false, "labelFlush": false,
                             "title": ["CH08:ACC-Y 基盤", "max. = 0.259 (gal)", "min. = -0.358 (gal)"],
                             "titleAngle": 0, "titleAlign": "left", "titleBaseline": "top", "titleX": -185, "titleY": 75, "titleLineHeight": 12.5}}
            }
          },
          {
            "data": {"values": [{}]},
            "mark": {"type": "rule", "color": "#00a000", "strokeWidth": 1},
            "encoding": {"x": {"datum": 0, "type": "quantitative", "axis": {"orient": "bottom", "values": [0,1,2,3,4,5,6,7,8,9,10,11,12,13,14,15,16,17,18,19,20,21,22,23,24,25,26,27,28,29,30,31,32,33,34,35,36,37,38,39,40,41,42,43,44,45,46,47,48,49,50,51,52,53,54,55,56,57,58,59,60], "tickSize": -3, "labels": false, "domain": false, "title": null}},
                         "x2": {"datum": 60}, "y": {"datum": 0, "type": "quantitative"}}
          },
          {
            "data": {"values": [{}]},
            "mark": {"type": "rule", "color": "black", "strokeWidth": 1},
            "encoding": {"x": {"datum": 0, "type": "quantitative", "axis": null}, "x2": {"datum": 60}, "y": {"datum": -2, "type": "quantitative"}}
          }
        ],
        "resolve": {"axis": {"x": "independent"}}
      }
    ],
    "spacing": 1
  },
  {
    "width": 1020, "height": 16,
    "view": {"fill": "#f0f0f0", "stroke": "#a0a0a0"},
    "layer": [
      {
        "data": {"values": [
          {"k": "a", "s": "2023/11/01 07:34:42.00\u00a0\u00a0(時刻修正時刻:11/01 07:34:42\u00a0\u00a0)"},
          {"k": "c", "s": "800 digit:offset=121 digit"}
        ]},
        "mark": {"type": "text", "align": "left", "baseline": "middle", "font": "Liberation Mono", "fontSize": 11.6, "color": "black"},
        "encoding": {
          "x": {"field": "k", "type": "nominal", "scale": {"type": "point", "domain": ["a", "c"], "range": [106, 761], "padding": 0}, "axis": null},
          "text": {"field": "s"}
        }
      },
      {
        "data": {"values": [{"k": "b", "s": "0.000kine"}]},
        "mark": {"type": "text", "align": "right", "baseline": "middle", "font": "Liberation Mono", "fontSize": 11.6, "color": "black"},
        "encoding": {
          "x": {"field": "k", "type": "nominal", "scale": {"type": "point", "domain": ["b"], "range": [742, 742], "padding": 0}, "axis": null},
          "text": {"field": "s"}
        }
      }
    ],
    "resolve": {"scale": {"x": "independent"}}
  }
],
"spacing": 12
}
